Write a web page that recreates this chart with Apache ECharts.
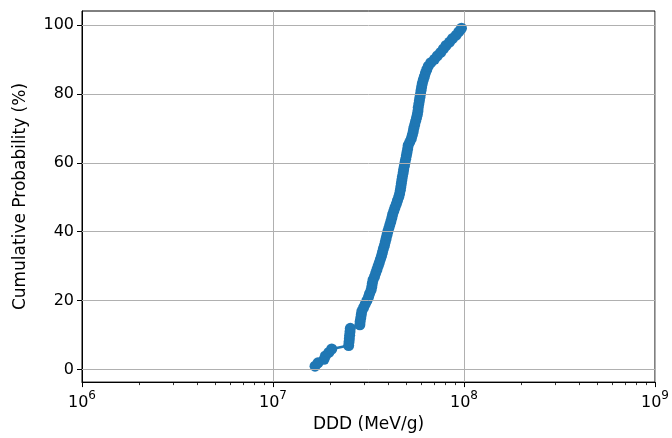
<!DOCTYPE html>
<html>
<head>
<meta charset="utf-8">
<script src="https://cdn.jsdelivr.net/npm/echarts@6/dist/echarts.min.js"></script>
<style>html,body{margin:0;padding:0;background:#fff}#c{width:672px;height:438px}</style>
</head>
<body>
<div id="c"></div>
<script>
// DDD values (MeV/g)
var dddValues = [
  1.66e7, 1.72e7, 1.85e7, 1.88e7, 1.96e7, 2.03e7, 2.49e7, 2.50e7, 2.51e7, 2.52e7,
  2.53e7, 2.54e7, 2.85e7, 2.86e7, 2.88e7, 2.90e7, 2.92e7, 2.98e7, 3.04e7, 3.10e7,
  3.16e7, 3.20e7, 3.26e7, 3.29e7, 3.31e7, 3.34e7, 3.40e7, 3.45e7, 3.50e7, 3.55e7,
  3.60e7, 3.65e7, 3.70e7, 3.74e7, 3.78e7, 3.83e7, 3.87e7, 3.91e7, 3.95e7, 3.99e7,
  4.04e7, 4.09e7, 4.14e7, 4.19e7, 4.23e7, 4.29e7, 4.35e7, 4.42e7, 4.48e7, 4.55e7,
  4.60e7, 4.64e7, 4.67e7, 4.70e7, 4.73e7, 4.76e7, 4.80e7, 4.83e7, 4.87e7, 4.91e7,
  4.95e7, 4.99e7, 5.03e7, 5.07e7, 5.10e7, 5.20e7, 5.30e7, 5.36e7, 5.42e7, 5.46e7,
  5.52e7, 5.58e7, 5.64e7, 5.70e7, 5.74e7, 5.76e7, 5.80e7, 5.84e7, 5.88e7, 5.92e7,
  5.96e7, 6.00e7, 6.05e7, 6.12e7, 6.20e7, 6.28e7, 6.38e7, 6.50e7, 6.70e7, 7.00e7,
  7.25e7, 7.55e7, 7.80e7, 8.05e7, 8.40e7, 8.70e7, 9.10e7, 9.40e7, 9.70e7
];
// Cumulative probability (%)
var cumProb = [
  1, 2, 3, 4, 5, 6, 7, 8, 9, 10,
  11, 12, 13, 14, 15, 16, 17, 18, 19, 20,
  21, 22, 23, 24, 25, 26, 27, 28, 29, 30,
  31, 32, 33, 34, 35, 36, 37, 38, 39, 40,
  41, 42, 43, 44, 45, 46, 47, 48, 49, 50,
  51, 52, 53, 54, 55, 56, 57, 58, 59, 60,
  61, 62, 63, 64, 65, 66, 67, 68, 69, 70,
  71, 72, 73, 74, 75, 76, 77, 78, 79, 80,
  81, 82, 83, 84, 85, 86, 87, 88, 89, 90,
  91, 92, 93, 94, 95, 96, 97, 98, 99
];
// axis ticks
var yTicks = [0, 20, 40, 60, 80, 100];
var xDecades = [1e6, 1e7, 1e8, 1e9];
var minorMult = [2, 3, 4, 5, 6, 7, 8, 9];

var minorTickPos = [];
for (var d = 0; d < xDecades.length - 1; d++) {
  for (var m = 0; m < minorMult.length; m++) {
    minorTickPos.push(Math.log10(xDecades[d] * minorMult[m]));
  }
}

var chart = echarts.init(document.getElementById('c'), null, {renderer: 'canvas'});
var font = 'DejaVu Sans';
var pts = dddValues.map(function (v, i) { return [v, cumProb[i]]; });

chart.setOption({
  animation: false,
  backgroundColor: '#fff',
  grid: {left: 82, right: 16, top: 11, bottom: 54, show: true, borderColor: '#000', borderWidth: 1, backgroundColor: 'transparent'},
  xAxis: [{
    type: 'log', logBase: 10, min: 1e6, max: 1e9, position: 'bottom',
    name: 'DDD (MeV/g)', nameLocation: 'middle', nameGap: 31,
    nameTextStyle: {fontFamily: font, fontSize: 17, color: '#000'},
    axisLine: {show: true, onZero: false, lineStyle: {color: '#000', width: 1}},
    axisTick: {show: true, inside: false, length: 5, lineStyle: {color: '#000', width: 1}},
    minorTick: {show: false},
    splitLine: {show: true, lineStyle: {color: '#b0b0b0', width: 1}},
    axisLabel: {
      margin: 8,
      formatter: function (v) { return '{b|10}{s|' + Math.round(Math.log10(v)) + '}'; },
      rich: {
        b: {fontFamily: font, fontSize: 16, color: '#000', lineHeight: 21, verticalAlign: 'bottom'},
        s: {fontFamily: font, fontSize: 12, color: '#000', lineHeight: 21, verticalAlign: 'top'}
      }
    }
  }, {
    type: 'value', min: 6, max: 9, position: 'bottom',
    axisLine: {show: false, onZero: false},
    axisTick: {show: true, inside: false, length: 3, customValues: minorTickPos, lineStyle: {color: '#000', width: 0.8}},
    axisLabel: {show: false},
    splitLine: {show: false}
  }],
  yAxis: {
    type: 'value', min: -3.6, max: 104,
    name: 'Cumulative Probability (%)', nameLocation: 'middle', nameGap: 53,
    nameTextStyle: {fontFamily: font, fontSize: 17, color: '#000'},
    axisLine: {show: true, onZero: false, lineStyle: {color: '#000', width: 1}},
    axisTick: {show: true, inside: false, length: 5, customValues: yTicks, lineStyle: {color: '#000', width: 1}},
    splitLine: {show: false},
    axisLabel: {customValues: yTicks, margin: 8, fontFamily: font, fontSize: 16, color: '#000'}
  },
  series: [{
    type: 'line', xAxisIndex: 0, data: pts,
    symbol: 'circle', symbolSize: 11, showSymbol: true,
    itemStyle: {color: '#1f77b4'},
    lineStyle: {color: '#1f77b4', width: 2.5},
    markLine: {
      silent: true, symbol: 'none', label: {show: false},
      lineStyle: {color: '#b0b0b0', width: 1, type: 'solid'},
      data: yTicks.map(function (t) { return {yAxis: t}; })
    },
    z: 3
  }]
});
</script>
</body>
</html>
